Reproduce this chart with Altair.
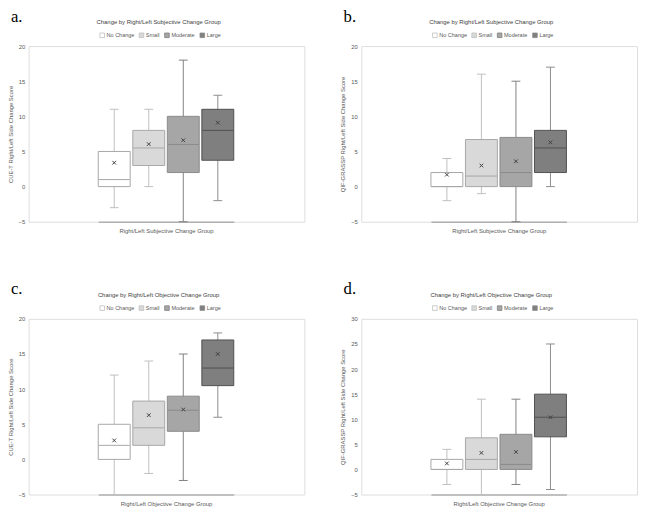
import altair as alt
import pandas as pd

groups = ["No Change", "Small", "Moderate", "Large"]

# Panel a: CUE-T by subjective change group
a_lo = [-3, 0, -5, -2]
a_q1 = [0, 3, 2, 3.75]
a_med = [1, 5.5, 6, 8]
a_q3 = [5, 8, 10, 11]
a_hi = [11, 11, 18, 13]
a_mean = [3.4, 6.05, 6.6, 9.1]

# Panel b: QIF-GRASSP by subjective change group
b_lo = [-2, -1, -5, 0]
b_q1 = [0, 0, 0, 2]
b_med = [0, 1.5, 2, 5.5]
b_q3 = [2, 6.7, 7, 8]
b_hi = [4, 16, 15, 17]
b_mean = [1.7, 3.0, 3.6, 6.3]

# Panel c: CUE-T by objective change group
c_lo = [-5, -2, -3, 6]
c_q1 = [0, 2, 4, 10.5]
c_med = [2, 4.5, 7, 13]
c_q3 = [5, 8.3, 9, 17]
c_hi = [12, 14, 15, 18]
c_mean = [2.7, 6.3, 7.1, 15]

# Panel d: QIF-GRASSP by objective change group
d_lo = [-3, -5, -3, -4]
d_q1 = [0, 0, 0, 6.5]
d_med = [0, 2, 1, 10.4]
d_q3 = [2, 6.3, 7, 15]
d_hi = [4, 14, 14, 25]
d_mean = [1.2, 3.3, 3.5, 10.4]

ticks_20 = [-5, 0, 5, 10, 15, 20]
ticks_30 = [-5, 0, 5, 10, 15, 20, 25, 30]

fill_colors = ["#ffffff", "#d9d9d9", "#a6a6a6", "#7f7f7f"]
edge_colors = ["#a6a6a6", "#a6a6a6", "#8a8a8a", "#505050"]
whisk_colors = ["#bfbfbf", "#bfbfbf", "#7f7f7f", "#8c8c8c"]

FONT = "Liberation Sans"
TXT = "#595959"
W, H = 281, 179


def panel(letter, title, ytitle, xtitle, lo, q1, med, q3, hi, mean, yvals):
    df = pd.DataFrame({"group": groups, "lo": lo, "q1": q1, "med": med,
                       "q3": q3, "hi": hi, "mean": mean})
    base = alt.Chart(df)
    x = alt.X("group:N", sort=groups,
              scale=alt.Scale(domain=groups, range=[W * 0.2526, W * 0.744],
                              paddingInner=0.075, paddingOuter=0),
              axis=alt.Axis(labels=False, ticks=False, title=xtitle,
                            domainColor="#b0b0b0", domainWidth=1.5,
                            titleFont=FONT, titleFontSize=6, titleFontWeight="normal",
                            titleColor=TXT, titlePadding=6))
    yscale = alt.Scale(domain=[yvals[0], yvals[-1]], nice=False, zero=False)
    yaxis = alt.Axis(values=yvals, tickSize=0, domain=False, grid=False,
                     labelOverlap=False,
                     labelFont=FONT, labelFontSize=6, labelColor=TXT,
                     labelPadding=4, title=ytitle, titleFont=FONT,
                     titleFontSize=6, titleFontWeight="normal",
                     titleColor=TXT, titlePadding=5)

    def Y(f):
        return alt.Y(f, scale=yscale, axis=yaxis, title=ytitle)

    leg = alt.Legend(orient="none", legendX=72, legendY=-14,
                     direction="horizontal", title=None,
                     symbolType="square", symbolSize=22, symbolStrokeWidth=0.8,
                     labelFont=FONT, labelFontSize=5.6, labelColor=TXT,
                     labelOffset=1.5, columnPadding=3)
    wcol = alt.Color("group:N", scale=alt.Scale(domain=groups, range=whisk_colors), legend=leg)
    ecol = alt.Stroke("group:N", scale=alt.Scale(domain=groups, range=edge_colors), legend=leg)
    fcol = alt.Fill("group:N", scale=alt.Scale(domain=groups, range=fill_colors), legend=leg)

    whisker = base.mark_rule(strokeWidth=1).encode(x=x, y=Y("lo:Q"), y2="hi:Q", color=wcol)
    cap_hi = base.mark_point(shape="M-1,0L1,0", size=81, strokeWidth=1, opacity=1).encode(
        x=x, y=Y("hi:Q"), color=wcol)
    cap_lo = base.mark_point(shape="M-1,0L1,0", size=81, strokeWidth=1, opacity=1).encode(
        x=x, y=Y("lo:Q"), color=wcol)
    box = base.mark_bar(strokeWidth=1, opacity=1).encode(
        x=x, y=Y("q1:Q"), y2="q3:Q", fill=fcol, stroke=ecol)
    median = base.mark_point(shape="M-1,0L1,0", size=1000, strokeWidth=1, opacity=1).encode(
        x=x, y=Y("med:Q"), stroke=ecol)
    meanpt = base.mark_point(shape="M-1,-1L1,1M-1,1L1,-1", size=14, strokeWidth=1,
                             opacity=1, color="#404040").encode(x=x, y=Y("mean:Q"))

    lab = alt.Chart(pd.DataFrame({"t": [letter]})).mark_text(
        font="Liberation Serif", fontSize=17, align="left", baseline="alphabetic",
        color="#000000").encode(x=alt.value(-18), y=alt.value(-25), text="t:N")
    ttl = alt.Chart(pd.DataFrame({"t": [title]})).mark_text(
        font=FONT, fontSize=6, align="center", baseline="middle",
        color="#404040").encode(x=alt.value(W / 2 - 8), y=alt.value(-24), text="t:N")

    return alt.layer(whisker, cap_hi, cap_lo, box, median, meanpt, lab, ttl).properties(
        width=W, height=H)


t_subj = "Change by Right/Left Subjective Change Group"
t_obj = "Change by Right/Left Objective Change Group"
x_subj = "Right/Left Subjective Change Group"
x_obj = "Right/Left Objective Change Group"
y_cue = "CUE-T Right/Left Side Change Score"
y_qif = "QIF-GRASSP Right/Left Side Change Score"

pa = panel("a.", t_subj, y_cue, x_subj, a_lo, a_q1, a_med, a_q3, a_hi, a_mean, ticks_20)
pb = panel("b.", t_subj, y_qif, x_subj, b_lo, b_q1, b_med, b_q3, b_hi, b_mean, ticks_20)
pc = panel("c.", t_obj, y_cue, x_obj, c_lo, c_q1, c_med, c_q3, c_hi, c_mean, ticks_20)
pd_ = panel("d.", t_obj, y_qif, x_obj, d_lo, d_q1, d_med, d_q3, d_hi, d_mean, ticks_30)


def res(ch):
    return ch.resolve_scale(x="independent", y="independent", fill="independent",
                            stroke="independent", color="independent").resolve_legend(
        fill="independent", stroke="independent", color="independent")


row1 = res(alt.hconcat(pa, pb, spacing=34))
row2 = res(alt.hconcat(pc, pd_, spacing=34))
chart = res(alt.vconcat(row1, row2, spacing=46)).properties(
    padding={"top": -6, "left": -2, "right": 0, "bottom": 0}).configure_view(
    stroke="#c8c8c8", strokeWidth=1).configure_axis(labelOverlap=False).configure(
    background="white")

chart.save("out.html", embed_options={"renderer": "svg", "actions": False})
